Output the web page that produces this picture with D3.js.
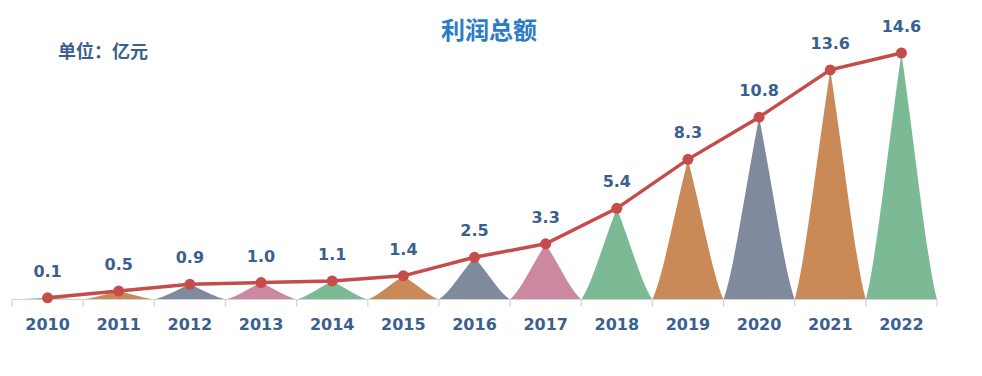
<!DOCTYPE html>
<html>
<head>
<meta charset="utf-8">
<script src="https://cdn.jsdelivr.net/npm/d3@7"></script>
<style>
  html, body { margin: 0; padding: 0; background: #fff; }
  svg text { font-family: "DejaVu Sans", "Noto Sans CJK SC", sans-serif; font-weight: bold; }
</style>
</head>
<body>
<svg id="chart" width="982" height="376"></svg>
<script>
const years = ["2010", "2011", "2012", "2013", "2014", "2015", "2016", "2017", "2018", "2019", "2020", "2021", "2022"];
const profit = [0.1, 0.5, 0.9, 1.0, 1.1, 1.4, 2.5, 3.3, 5.4, 8.3, 10.8, 13.6, 14.6];
const spikeColors = ["#7cb995", "#c98a58", "#7f8b9c", "#cb88a0", "#7cb995", "#c98a58", "#7f8b9c",
                     "#cb88a0", "#7cb995", "#c98a58", "#7f8b9c", "#c98a58", "#7cb995"];

const svg = d3.select("#chart");
const textColor = "#3b5f8f";

const x = d3.scaleBand().domain(years).range([12, 937]).padding(0);
const y = d3.scaleLinear().domain([0, 14.6]).range([299.5, 53]);
const y0 = y(0);

// title + unit
svg.append("text")
  .attr("x", 489).attr("y", 39)
  .attr("text-anchor", "middle")
  .style("font-family", "'Noto Sans CJK SC', sans-serif")
  .style("font-size", "24px")
  .attr("fill", "#2a7cc7")
  .text("利润总额");

svg.append("text")
  .attr("x", 58).attr("y", 58)
  .style("font-family", "'Noto Sans CJK SC', sans-serif")
  .style("font-size", "18px")
  .attr("fill", textColor)
  .text("单位：亿元");

// spike shapes: flared base, near-straight upper sides
function spike(i, v) {
  const x0 = x(years[i]), w = x.bandwidth(), h = y0 - y(v);
  return `M${x0},${y0}` +
    ` C${x0 + 0.15 * w},${y0 - 0.17 * h} ${x0 + 0.28 * w},${y0 - 0.55 * h} ${x0 + 0.5 * w},${y0 - h}` +
    ` C${x0 + 0.72 * w},${y0 - 0.55 * h} ${x0 + 0.85 * w},${y0 - 0.17 * h} ${x0 + w},${y0} Z`;
}

svg.append("g")
  .selectAll("path")
  .data(profit)
  .join("path")
  .attr("d", (d, i) => spike(i, d))
  .attr("fill", (d, i) => spikeColors[i]);

// x axis
const axis = svg.append("g").attr("transform", `translate(0,${y0})`);
axis.append("line")
  .attr("x1", x.range()[0]).attr("x2", x.range()[1])
  .attr("stroke", "#d3d3d3").attr("stroke-width", 1.2);
axis.selectAll("line.tick")
  .data(years.concat(["end"]))
  .join("line")
  .attr("class", "tick")
  .attr("x1", (d, i) => x.range()[0] + i * x.bandwidth())
  .attr("x2", (d, i) => x.range()[0] + i * x.bandwidth())
  .attr("y1", 0).attr("y2", 7)
  .attr("stroke", "#d3d3d3").attr("stroke-width", 1.2);
axis.selectAll("text")
  .data(years)
  .join("text")
  .attr("x", d => x(d) + x.bandwidth() / 2)
  .attr("y", 30)
  .attr("text-anchor", "middle")
  .style("font-size", "16px")
  .attr("fill", textColor)
  .text(d => d);

// line
const line = d3.line()
  .x((d, i) => x(years[i]) + x.bandwidth() / 2)
  .y(d => y(d));

svg.append("path")
  .datum(profit)
  .attr("d", line)
  .attr("fill", "none")
  .attr("stroke", "#c64b4b")
  .attr("stroke-width", 3.5);

svg.append("g")
  .selectAll("circle")
  .data(profit)
  .join("circle")
  .attr("cx", (d, i) => x(years[i]) + x.bandwidth() / 2)
  .attr("cy", d => y(d))
  .attr("r", 5.5)
  .attr("fill", "#c64b4b");

// value labels
svg.append("g")
  .selectAll("text")
  .data(profit)
  .join("text")
  .attr("x", (d, i) => x(years[i]) + x.bandwidth() / 2)
  .attr("y", d => y(d) - 21)
  .attr("text-anchor", "middle")
  .style("font-size", "16px")
  .attr("fill", textColor)
  .text(d => d.toFixed(1));
</script>
</body>
</html>
